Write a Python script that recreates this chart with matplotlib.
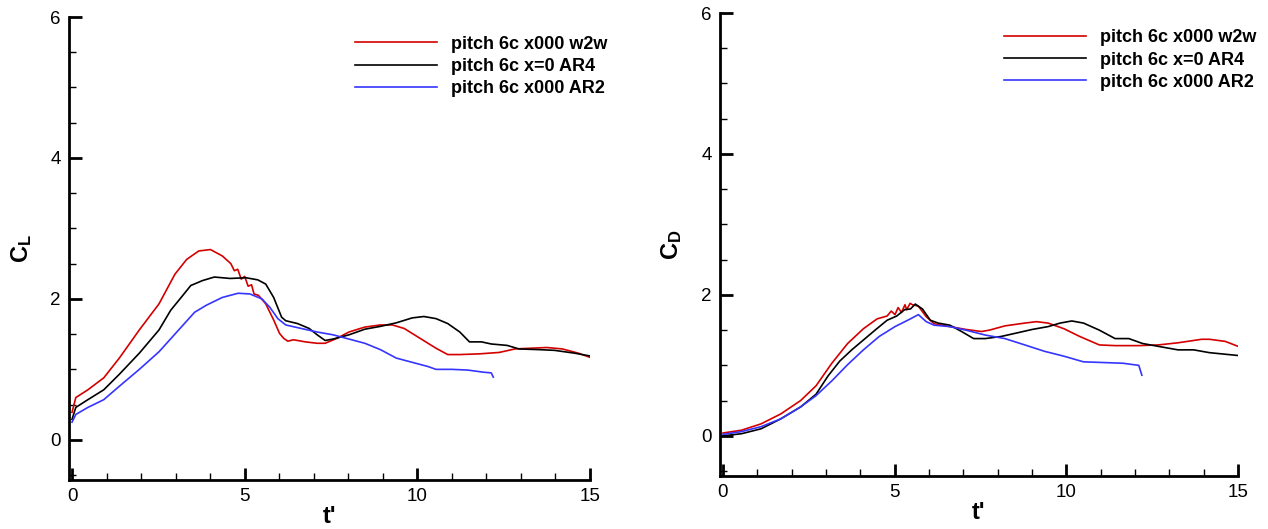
import matplotlib
matplotlib.use('Agg')
import matplotlib.pyplot as plt
from matplotlib.ticker import MultipleLocator

plt.rcParams['font.family'] = ['Liberation Sans', 'DejaVu Sans']
plt.rcParams['mathtext.fontset'] = 'custom'
plt.rcParams['mathtext.bf'] = 'Liberation Sans:bold'
plt.rcParams['mathtext.rm'] = 'Liberation Sans'

labels = ['pitch 6c x000 w2w', 'pitch 6c x=0 AR4', 'pitch 6c x000 AR2']
colors = ['#d40000', 'black', '#3535ff']

# ---- lift coefficient ----
cl_w2w_t = [0, 0.11, 0.46, 0.92, 1.37, 1.95, 2.52, 2.98, 3.32, 3.67, 4.01, 4.35, 4.6, 4.7,
            4.8, 4.9, 5.0, 5.1, 5.2, 5.27, 5.4, 5.61, 5.84, 6.01, 6.13, 6.25, 6.41, 6.76, 7.10,
            7.33, 7.67, 8.02, 8.48, 8.93, 9.28, 9.62, 10.08, 10.54, 10.88, 11.23, 11.80,
            12.37, 12.83, 13.29, 13.75, 14.20, 14.66, 15.0]
cl_w2w = [0.39, 0.60, 0.71, 0.88, 1.16, 1.56, 1.93, 2.35, 2.56, 2.68, 2.70, 2.61, 2.50, 2.40,
          2.42, 2.28, 2.32, 2.18, 2.20, 2.07, 2.05, 1.93, 1.70, 1.51, 1.44, 1.40, 1.42, 1.39,
          1.37, 1.37, 1.44, 1.53, 1.60, 1.63, 1.63, 1.58, 1.44, 1.30, 1.21, 1.21, 1.22,
          1.24, 1.29, 1.30, 1.31, 1.29, 1.23, 1.17]

cl_ar4_t = [0, 0.11, 0.46, 0.92, 1.37, 1.95, 2.52, 2.86, 3.21, 3.44, 3.78, 4.12, 4.58, 5.04,
            5.38, 5.61, 5.84, 6.07, 6.19, 6.53, 6.87, 7.10, 7.33, 7.56, 8.02, 8.48, 8.93,
            9.39, 9.85, 10.19, 10.54, 10.88, 11.23, 11.51, 11.86, 12.14, 12.60, 12.94,
            13.52, 13.97, 14.55, 15.0]
cl_ar4 = [0.29, 0.46, 0.57, 0.71, 0.93, 1.23, 1.56, 1.84, 2.05, 2.19, 2.26, 2.31, 2.29, 2.30,
          2.27, 2.21, 2.02, 1.74, 1.69, 1.65, 1.58, 1.49, 1.41, 1.43, 1.49, 1.57, 1.61,
          1.66, 1.73, 1.75, 1.72, 1.65, 1.53, 1.39, 1.39, 1.36, 1.34, 1.29,
          1.28, 1.27, 1.23, 1.19]

cl_ar2_t = [0, 0.11, 0.46, 0.92, 1.37, 1.95, 2.52, 3.09, 3.55, 3.89, 4.35, 4.81, 5.15, 5.50,
            5.73, 5.96, 6.19, 6.64, 7.10, 7.56, 8.02, 8.48, 8.93, 9.39, 9.85, 10.31, 10.54,
            11.0, 11.46, 11.91, 12.14, 12.2]
cl_ar2 = [0.25, 0.36, 0.46, 0.57, 0.76, 1.00, 1.25, 1.56, 1.81, 1.91, 2.02, 2.08, 2.07, 2.00,
          1.88, 1.72, 1.63, 1.58, 1.53, 1.49, 1.43, 1.37, 1.28, 1.16, 1.10, 1.04, 1.00,
          1.00, 0.99, 0.96, 0.95, 0.89]

# ---- drag coefficient ----
cd_w2w_t = [0, 0.54, 1.11, 1.68, 2.26, 2.71, 3.17, 3.63, 4.09, 4.49, 4.78, 4.9, 5.01, 5.1,
            5.2, 5.3, 5.35, 5.45, 5.52, 5.69, 5.92, 6.15, 6.61, 7.07, 7.53, 7.76, 8.21, 8.79,
            9.13, 9.47, 9.93, 10.39, 10.96, 11.42, 12.11, 12.68, 13.25, 13.94, 14.17,
            14.63, 15.0]
cd_w2w = [0.04, 0.08, 0.17, 0.31, 0.50, 0.71, 1.03, 1.31, 1.52, 1.66, 1.70, 1.77, 1.72, 1.82,
          1.75, 1.86, 1.79, 1.88, 1.86, 1.84, 1.69, 1.59, 1.55, 1.51, 1.48, 1.50, 1.56, 1.60,
          1.62, 1.60, 1.52, 1.41, 1.29, 1.28, 1.28, 1.29, 1.32, 1.37, 1.37,
          1.34, 1.27]

cd_ar4_t = [0, 0.54, 1.11, 1.68, 2.26, 2.71, 3.06, 3.40, 3.75, 4.09, 4.43, 4.78, 5.06, 5.29,
            5.46, 5.60, 5.81, 6.04, 6.27, 6.61, 6.95, 7.30, 7.64, 8.10, 8.56, 9.01, 9.47,
            9.82, 10.16, 10.50, 10.96, 11.42, 11.82, 12.22, 12.79, 13.25, 13.71, 14.17, 15.0]
cd_ar4 = [0.0, 0.03, 0.10, 0.24, 0.41, 0.59, 0.85, 1.06, 1.22, 1.36, 1.50, 1.64, 1.70, 1.79,
          1.80, 1.87, 1.80, 1.64, 1.60, 1.57, 1.48, 1.38, 1.38, 1.41, 1.46, 1.51, 1.55,
          1.60, 1.63, 1.60, 1.50, 1.38, 1.38, 1.31, 1.26, 1.22, 1.22, 1.18, 1.14]

cd_ar2_t = [0, 0.54, 1.11, 1.68, 2.26, 2.71, 3.17, 3.63, 4.09, 4.55, 5.01, 5.46, 5.69, 5.92,
            6.15, 6.61, 7.07, 7.64, 8.21, 8.79, 9.36, 9.93, 10.50, 11.08, 11.65, 12.11, 12.2]
cd_ar2 = [0.02, 0.06, 0.13, 0.24, 0.41, 0.57, 0.78, 1.01, 1.22, 1.41, 1.55, 1.66, 1.72, 1.62,
          1.57, 1.55, 1.50, 1.43, 1.38, 1.29, 1.20, 1.13, 1.05, 1.04, 1.03, 1.00, 0.86]

fig = plt.figure(figsize=(12.68, 5.29), dpi=100)
ax1 = fig.add_axes([69 / 1268, 49 / 529, 521 / 1268, 463 / 529])
ax2 = fig.add_axes([720 / 1268, 53 / 529, 518 / 1268, 463 / 529])

panels = [
    (ax1, [(cl_w2w_t, cl_w2w), (cl_ar4_t, cl_ar4), (cl_ar2_t, cl_ar2)], r'$\mathbf{C_L}$', (0.536, 0.975)),
    (ax2, [(cd_w2w_t, cd_w2w), (cd_ar4_t, cd_ar4), (cd_ar2_t, cd_ar2)], r'$\mathbf{C_D}$', (0.535, 0.98)),
]

for ax, series, ylab, anchor in panels:
    for (t, v), c, lab in zip(series, colors, labels):
        ax.plot(t, v, color=c, lw=1.2, label=lab)
    ax.set_xlim(-0.087, 15)
    ax.set_ylim(-0.57, 6)
    ax.spines['top'].set_visible(False)
    ax.spines['right'].set_visible(False)
    ax.spines['left'].set_linewidth(2)
    ax.spines['bottom'].set_linewidth(2)
    ax.xaxis.set_major_locator(MultipleLocator(5))
    ax.xaxis.set_minor_locator(MultipleLocator(1))
    ax.yaxis.set_major_locator(MultipleLocator(2))
    ax.yaxis.set_minor_locator(MultipleLocator(0.5))
    ax.tick_params(which='both', direction='in', labelsize=13.5, pad=6)
    ax.tick_params(which='major', length=9, width=2)
    ax.tick_params(which='minor', length=5, width=1)
    ax.set_xlabel("t'", fontsize=17, fontweight='bold', labelpad=0)
    ax.set_ylabel(ylab, fontsize=17, labelpad=12)
    ax.legend(loc='upper left', bbox_to_anchor=anchor, frameon=False,
              prop={'weight': 'bold', 'size': 13}, handlelength=4.5,
              handletextpad=0.8, labelspacing=0.28, borderaxespad=0)

fig.savefig('out.png', dpi=100)
